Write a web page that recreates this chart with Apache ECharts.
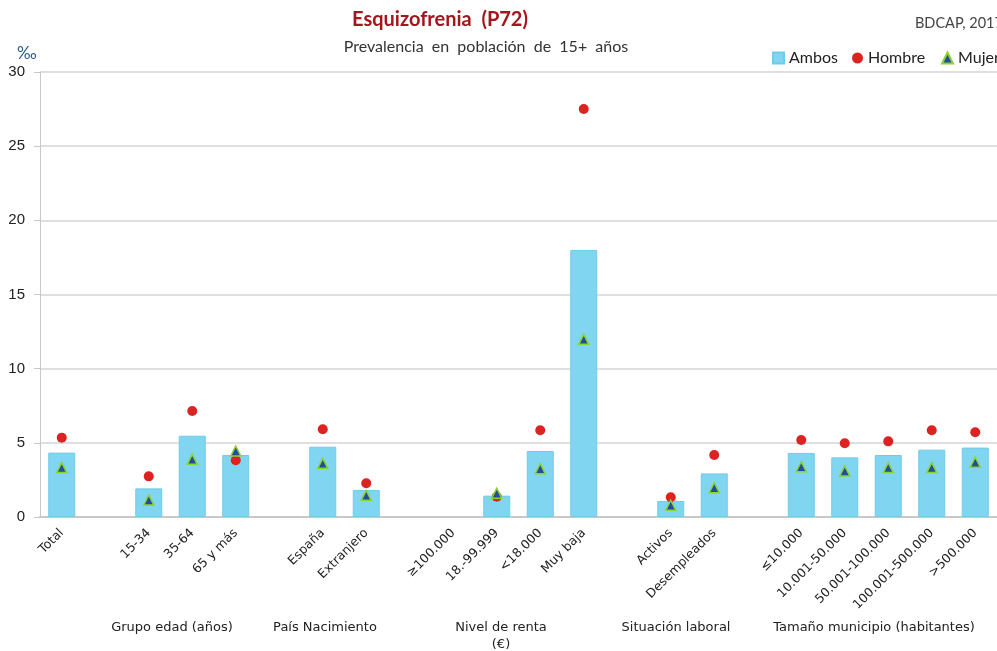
<!DOCTYPE html>
<html>
<head>
<meta charset="utf-8">
<script src="https://cdn.jsdelivr.net/npm/echarts@6/dist/echarts.min.js"></script>
<style>
  html, body { margin: 0; padding: 0; background: #fff; }
  #chart { width: 997px; height: 651px; }
</style>
</head>
<body>
<div id="chart"></div>
<script>
// categorias ('' = hueco entre grupos)
var categories = ['Total', '', '15-34', '35-64', '65 y más', '', 'España', 'Extranjero', '',
    '≥100.000', '18.-99.999', '<18.000', 'Muy baja', '', 'Activos', 'Desempleados', '',
    '≤10.000', '10.001-50.000', '50.001-100.000', '100.001-500.000', '>500.000'];
var ambos = [4.34, null, 1.93, 5.48, 4.18, null, 4.74, 1.82, null,
    null, 1.44, 4.45, 18.0, null, 1.08, 2.94, null,
    4.32, 4.02, 4.18, 4.54, 4.68];
var hombre = [5.35, null, 2.74, 7.15, 3.82, null, 5.91, 2.27, null,
    null, 1.37, 5.85, 27.5, null, 1.33, 4.18, null,
    5.19, 4.97, 5.10, 5.85, 5.71];
var mujer = [3.33, null, 1.15, 3.89, 4.45, null, 3.62, 1.46, null,
    null, 1.60, 3.26, 11.98, null, 0.79, 1.98, null,
    3.39, 3.10, 3.33, 3.33, 3.69];
var yTicks = [0, 5, 10, 15, 20, 25, 30];
var groups = [
    { text: 'Grupo edad (años)', x: 172 },
    { text: 'País Nacimiento', x: 325 },
    { text: 'Nivel de renta\n(€)', x: 501 },
    { text: 'Situación laboral', x: 676 },
    { text: 'Tamaño municipio (habitantes)', x: 874 }
];

var myChart = echarts.init(document.getElementById('chart'));

function legendItem(name, icon, left) {
    return {
        left: left, top: 50, padding: 0,
        itemWidth: 11, itemHeight: 11,
        textStyle: { color: '#222', fontSize: 16, fontFamily: 'Lato' },
        data: [{ name: name, icon: icon }]
    };
}

var option = {
    animation: false,
    textStyle: { fontFamily: 'Lato, sans-serif' },
    title: [{
        text: 'Esquizofrenia  (P72)',
        left: 435, top: 5,
        textAlign: 'center',
        textStyle: { color: '#a3161b', fontSize: 20, fontWeight: 'bold', fontFamily: 'Lato' }
    }, {
        text: 'Prevalencia  en  población  de  15+  años',
        left: 481, top: 34,
        textAlign: 'center',
        textStyle: { color: '#333', fontSize: 16, fontWeight: 'normal', fontFamily: 'Lato' }
    }, {
        text: 'BDCAP, 2017',
        left: 910, top: 11,
        textStyle: { color: '#444', fontSize: 14.5, fontWeight: 'normal', fontFamily: 'Lato' }
    }, {
        text: '‰',
        left: 12, top: 40,
        textStyle: { color: '#2b5c8e', fontSize: 17, fontWeight: 'normal' }
    }],
    legend: [
        legendItem('Ambos', 'rect', 772),
        legendItem('Hombre', 'circle', 852),
        legendItem('Mujer', 'triangle', 941)
    ],
    grid: { left: 40, top: 72, width: 968, height: 445 },
    xAxis: {
        type: 'category',
        data: categories,
        axisLine: { lineStyle: { color: '#c8c8c8', width: 2 } },
        axisTick: { show: false },
        axisLabel: {
            interval: 0, rotate: 45, margin: 14,
            color: '#222', fontSize: 12.5, fontFamily: 'DejaVu Sans'
        }
    },
    yAxis: {
        type: 'value',
        min: yTicks[0], max: yTicks[yTicks.length - 1], interval: 5,
        axisLine: { show: true, lineStyle: { color: '#c8c8c8' } },
        axisTick: { show: true, length: 6, lineStyle: { color: '#c8c8c8' } },
        axisLabel: { color: '#222', fontSize: 15, margin: 15, fontFamily: '"Liberation Sans Narrow", "Liberation Sans", sans-serif' },
        splitLine: { lineStyle: { color: '#d4d4d4', width: 1.5 } }
    },
    series: [{
        name: 'Ambos',
        type: 'bar',
        data: ambos,
        barWidth: 27,
        itemStyle: { color: '#80d5f0', borderColor: '#72cbe9', borderWidth: 1 }
    }, {
        name: 'Hombre',
        type: 'scatter',
        data: hombre,
        symbol: 'circle',
        symbolSize: 10,
        itemStyle: { color: '#dd2222', opacity: 1 },
        z: 3
    }, {
        name: 'Mujer',
        type: 'scatter',
        data: mujer,
        symbol: 'triangle',
        symbolSize: 10,
        itemStyle: { color: '#1f4f9c', borderColor: '#8fd12f', borderWidth: 1.5, opacity: 1 },
        z: 4
    }],
    graphic: groups.map(function (g) {
        return {
            type: 'text',
            x: g.x, y: 619,
            style: {
                text: g.text,
                textAlign: 'center',
                textVerticalAlign: 'top',
                fill: '#222',
                font: '13px "DejaVu Sans"',
                lineHeight: 17
            }
        };
    })
};

myChart.setOption(option);
</script>
</body>
</html>
